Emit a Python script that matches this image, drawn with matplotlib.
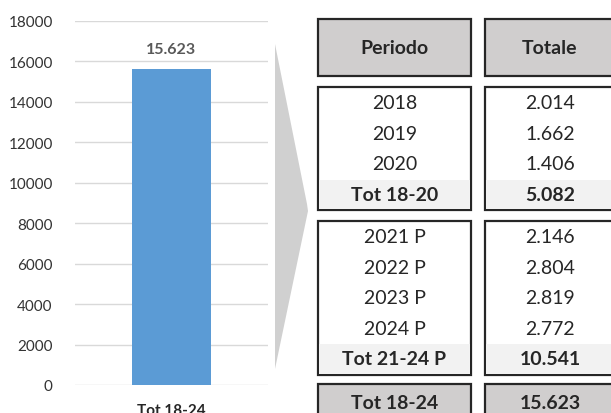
import matplotlib
matplotlib.use("Agg")
import matplotlib.pyplot as plt
from matplotlib.patches import Rectangle, Polygon

plt.rcParams["font.family"] = ["Lato", "DejaVu Sans"]

# data
bar_label = "Tot 18-24"
bar_value = 15623
yticks = list(range(0, 18001, 2000))

header = ["Periodo", "Totale"]
group1_periods = ["2018", "2019", "2020", "Tot 18-20"]
group1_totals = ["2.014", "1.662", "1.406", "5.082"]
group2_periods = ["2021 P", "2022 P", "2023 P", "2024 P", "Tot 21-24 P"]
group2_totals = ["2.146", "2.804", "2.819", "2.772", "10.541"]
grand_period = "Tot 18-24"
grand_total = "15.623"

W, H = 611, 414
BLUE = "#5B9BD5"
GRID = "#D9D9D9"
HEAD = "#D0CECE"
SUB = "#F2F2F2"
EDGE = "#262626"
TXT = "#262626"

fig = plt.figure(figsize=(W / 100, H / 100), dpi=100)

# ---- bar chart ----
ax = fig.add_axes([75 / W, 28 / H, (268 - 75) / W, (386 - 22) / H])
ax.bar([0], [bar_value], width=0.405, color=BLUE, zorder=3)
ax.set_xlim(-0.5, 0.5)
ax.set_ylim(0, 18000)
ax.set_yticks(yticks)
ax.set_yticklabels([str(t) for t in yticks], fontsize=11, color="#333333")
ax.set_xticks([0])
ax.set_xticklabels([bar_label], fontsize=11, fontweight="bold", color=TXT)
ax.tick_params(axis="y", length=0, pad=16)
ax.tick_params(axis="x", length=0, pad=13)
ax.grid(axis="y", color=GRID, lw=1, zorder=0)
for s in ax.spines.values():
    s.set_visible(False)
ax.text(0, bar_value + 1000, f"{bar_value:,}".replace(",", "."), ha="center",
        va="center", fontsize=11.5, fontweight="bold", color="#595959")

# ---- overlay for table in pixel coords ----
ov = fig.add_axes([0, 0, 1, 1])
ov.set_xlim(0, W)
ov.set_ylim(H, 0)
ov.axis("off")

ov.add_patch(Polygon([(275, 45), (307, 205), (308, 212), (275, 370)],
                     closed=True, facecolor="#D0D0D0", edgecolor="none"))

cols = [(318, 471), (485, 616)]
centers = [394.5, 550]
LW = 1.6
ROW = 30.5
FS = 14


def box(y0, y1, fill):
    for x0, x1 in cols:
        ov.add_patch(Rectangle((x0, y0), x1 - x0, y1 - y0, facecolor=fill,
                               edgecolor=EDGE, lw=LW, clip_on=False))


def cell_text(y, texts, bold):
    for xc, t in zip(centers, texts):
        ov.text(xc, y, t, ha="center", va="center", fontsize=FS,
                fontweight="bold" if bold else "normal", color=TXT)


# header
box(20, 77, HEAD)
cell_text(48, header, True)


def group(top, periods, totals):
    n = len(periods)
    bottom = top + n * ROW + 1
    box(top, bottom, "white")
    for x0, x1 in cols:
        ov.add_patch(Rectangle((x0 + 1, top + (n - 1) * ROW + 1), x1 - x0 - 2,
                               bottom - top - (n - 1) * ROW - 2,
                               facecolor=SUB, edgecolor="none"))
    for i, (p, t) in enumerate(zip(periods, totals)):
        cell_text(top + 16 + ROW * i, [p, t], i == n - 1)


group(88, group1_periods, group1_totals)
group(222, group2_periods, group2_totals)

box(385, 430, HEAD)
cell_text(404, [grand_period, grand_total], True)

fig.savefig("out.png", dpi=100)
